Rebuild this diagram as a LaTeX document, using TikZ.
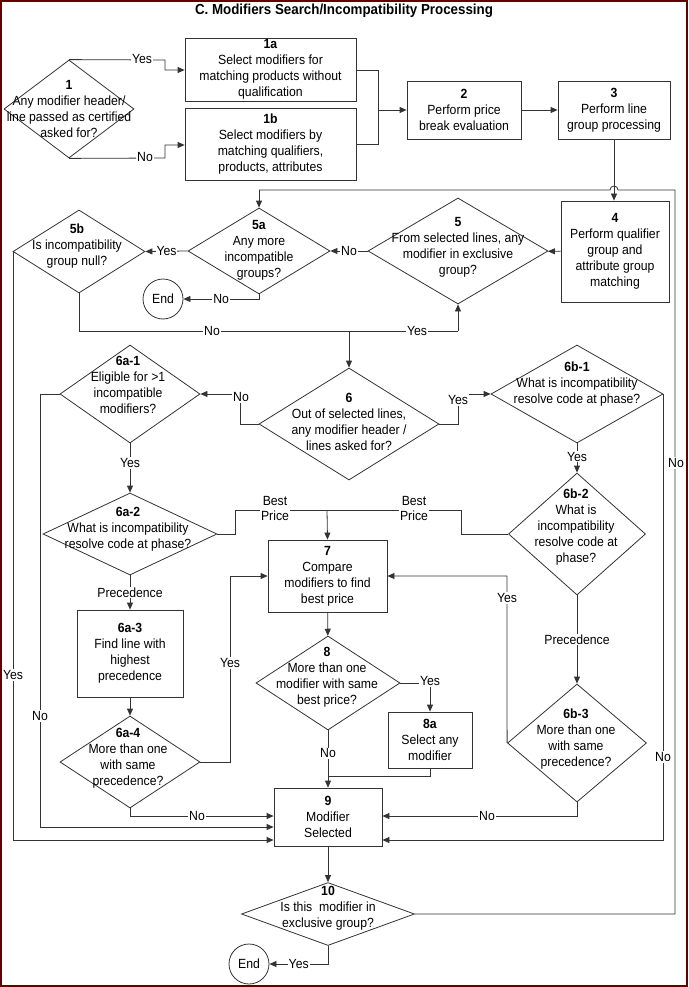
\documentclass[tikz,border=0pt]{standalone}
\usepackage{fontspec}
\setmainfont{Liberation Sans}[FakeStretch=0.92]
\usetikzlibrary{shapes.geometric,arrows.meta}
\begin{document}
\begin{tikzpicture}[x=1pt,y=-1pt,
  every node/.style={font=\fontsize{13.3}{16}\selectfont},
  box/.style={draw=black!80,thick,minimum width=#1,align=center,inner sep=0},
  dia/.style={diamond,draw=black!80,thick,inner sep=0},
  txt/.style={align=center,inner sep=0},
  lab/.style={fill=white,inner sep=1pt},
  endn/.style={circle,draw=black!80,thick,minimum size=40,inner sep=0},
  line/.style={draw=black!80,thick},
  arr/.style={line,-{Triangle[length=7pt,width=6pt]}}]
\useasboundingbox (0,0) rectangle (688,987);
\draw[draw=red!40!black,line width=2] (1,1) rectangle (687,986);
\node[font=\bfseries\fontsize{14.5}{16}\selectfont] (title) at (344,11) {C. Modifiers Search/Incompatibility Processing};
% nodes
\node[dia,minimum width=130,minimum height=98] (d1) at (69,109) {};
\node[txt] (t1) at (69,109) {\textbf{1}\\Any modifier header/\\line passed as certified\\asked for?};
\node[box=171,minimum height=63] (b1a) at (270.5,69.5) {\textbf{1a}\\Select modifiers for\\matching products without\\qualification};
\node[box=171,minimum height=72] (b1b) at (270.5,144) {\textbf{1b}\\Select modifiers by\\matching qualifiers,\\products, attributes};
\node[box=114,minimum height=58] (b2) at (464,110) {\textbf{2}\\Perform price\\break evaluation};
\node[box=112,minimum height=58] (b3) at (614,110) {\textbf{3}\\Perform line\\group processing};
\node[box=108,minimum height=101] (b4) at (615,251.5) {\textbf{4}\\Perform qualifier\\group and\\attribute group\\matching};
\node[dia,minimum width=180,minimum height=106] (d5) at (458,251) {};
\node[txt] (t5) at (458,247) {\textbf{5}\\From selected lines, any\\modifier in exclusive\\group?};
\node[dia,minimum width=142,minimum height=86] (d5a) at (259,251) {};
\node[txt] (t5a) at (259,250) {\textbf{5a}\\Any more\\incompatible\\groups?};
\node[dia,minimum width=132,minimum height=83] (d5b) at (79,251.5) {};
\node[txt] (t5b) at (77,246) {\textbf{5b}\\Is incompatibility\\group null?};
\node[endn] (end1) at (163,299) {End};
\node[dia,minimum width=180,minimum height=112] (d6) at (349,424) {};
\node[txt] (t6) at (349,422) {\textbf{6}\\Out of selected lines,\\any modifier header /\\lines asked for?};
\node[dia,minimum width=140,minimum height=98] (d6a1) at (130,394) {};
\node[txt] (t6a1) at (128,385) {\textbf{6a-1}\\Eligible for >1\\incompatible\\modifiers?};
\node[dia,minimum width=172,minimum height=98] (d6b1) at (577,394) {};
\node[txt] (t6b1) at (577,384) {\textbf{6b-1}\\What is incompatibility\\resolve code at phase?};
\node[dia,minimum width=174,minimum height=82] (d6a2) at (130,534) {};
\node[txt] (t6a2) at (128,529) {\textbf{6a-2}\\What is incompatibility\\resolve code at phase?};
\node[dia,minimum width=137,minimum height=122] (d6b2) at (577,534) {};
\node[txt] (t6b2) at (576,527) {\textbf{6b-2}\\What is\\incompatibility\\resolve code at\\phase?};
\node[box=119,minimum height=72] (b7) at (327.5,576) {\textbf{7}\\Compare\\modifiers to find\\best price};
\node[box=106,minimum height=87] (b6a3) at (130,653.5) {\textbf{6a-3}\\Find line with\\highest\\precedence};
\node[dia,minimum width=140,minimum height=92] (d6a4) at (130,762) {};
\node[txt] (t6a4) at (128,758) {\textbf{6a-4}\\More than one\\with same\\precedence?};
\node[dia,minimum width=144,minimum height=94] (d8) at (328,683) {};
\node[txt] (t8) at (327,677) {\textbf{8}\\More than one\\modifier with same\\best price?};
\node[box=84,minimum height=56] (b8a) at (430,740) {\textbf{8a}\\Select any\\modifier};
\node[dia,minimum width=139,minimum height=118] (d6b3) at (577,743) {};
\node[txt] (t6b3) at (576,739) {\textbf{6b-3}\\More than one\\with same\\precedence?};
\node[box=108,minimum height=58] (b9) at (328,817) {\textbf{9}\\Modifier\\Selected};
\node[dia,minimum width=173,minimum height=63] (d10) at (328,914) {};
\node[txt] (t10) at (328,908) {\textbf{10}\\Is this\ \ modifier in\\exclusive group?};
\node[endn] (end2) at (249,964) {End};
% coordinates
\coordinate (m12) at (378,110);
\coordinate (j7) at (327,510);
\coordinate (j9) at (328,776);
% connectors
\draw[arr] (d1.north) -- (165,60) -- (165,70) -- (b1a.west|-165,70);
\node[lab] (ly1) at (142,59) {Yes};
\draw[arr] (d1.south) -- (165,158) -- (165,145) -- (b1b.west|-165,145);
\node[lab] (ln1) at (145,157) {No};
\draw[line] (b1a.east|-0,70) -- (378,70) -- (378,144) -- (b1b.east|-0,144);
\draw[arr] (m12) -- (b2.west);
\draw[arr] (b2) -- (b3);
\draw[arr] (b3.south) -- (b3.south|-b4.north);
\draw[arr] (b4) -- (d5);
\draw[arr] (d5.west) -- (d5a.east) node[lab,midway] (ln5) {No};
\draw[arr] (d5a.west) -- (d5b.east) node[lab,midway] (ly5a) {Yes};
\draw[arr] (d5a.south) -- (259,299) -- (end1) node[lab,midway] (ln5a) {No};
\draw[line] (d5b.south) -- (79,331) -- (458,331);
\draw[arr] (458,331) -- (d5.south);
\node[lab] (ln5b) at (212,331) {No};
\node[lab] (ly5) at (417,331) {Yes};
\draw[arr] (349,331) -- (d6.north);
\draw[arr] (d5b.west) -- (13,251.5) -- (13,840) -- (b9.west|-0,840);
\node[lab] (ly5b) at (13,675) {Yes};
\draw[arr] (d6.west) -- (240,424) -- (240,394) -- (d6a1.east);
\node[lab] (ln6) at (241,397) {No};
\draw[arr] (d6.east) -- (458,424) -- (458,394) -- (d6b1.west);
\node[lab] (ly6) at (458,400) {Yes};
\draw[arr] (d6a1.west) -- (40,394) -- (40,827) -- (b9.west|-0,827);
\node[lab] (ln6a1) at (40,716) {No};
\draw[arr] (d6a1.south) -- (d6a2.north) node[lab,pos=0.4] (ly6a1) {Yes};
\draw[arr] (d6b1.south) -- (d6b2.north) node[lab,pos=0.45] (ly6b1) {Yes};
\draw[arr] (d6b1.east) -- (663,394) -- (663,840) -- (b9.east|-0,840);
\node[lab] (ln6b1) at (663,757) {No};
\draw[line] (d6a2.east) -- (235,534) -- (235,510) -- (j7);
\draw[line] (d6b2.west) -- (461,534) -- (461,510) -- (j7);
\node[lab,align=center,font=\fontsize{13.3}{15}\selectfont] (bp1) at (275,508) {Best\\Price};
\node[lab,align=center,font=\fontsize{13.3}{15}\selectfont] (bp2) at (414,508) {Best\\Price};
\draw[arr] (j7) -- (b7.north);
\draw[arr] (d6a2.south) -- (b6a3.north) node[lab,midway] (lp1) {Precedence};
\draw[arr] (b6a3) -- (d6a4);
\draw[arr] (d6a4.east) -- (230,762) -- (230,576) -- (b7.west);
\node[lab] (ly6a4) at (230,663) {Yes};
\draw[arr] (d6a4.south) -- (130,816) -- (b9.west|-0,816);
\node[lab] (ln6a4) at (197,816) {No};
\draw[arr] (b7) -- (d8);
\draw[line] (d8.east) -- (430,683);
\draw[arr] (430,683) -- (b8a.north);
\node[lab] (ly8) at (430,681) {Yes};
\draw[line] (b8a.south) -- (430,776) -- (j9);
\draw[arr] (d8.south) -- (b9.north) node[lab,pos=0.4] (ln8) {No};
\draw[arr] (d6b2.south) -- (d6b3.north) node[lab,midway] (lp2) {Precedence};
\draw[arr] (d6b3.west) -- (507,576) -- (b7.east);
\node[lab] (ly6b3) at (507,598) {Yes};
\draw[arr] (d6b3.south) -- (577,816) -- (b9.east|-0,816);
\node[lab] (ln6b3) at (487,816) {No};
\draw[arr] (b9) -- (d10);
\draw[arr] (d10.south) -- (328,964) -- (end2) node[lab,midway] (ly10) {Yes};
\draw[line] (d10.east) -- (675,914) -- (675,190) -- (618,190) arc (0:-180:4) -- (259,190);
\draw[arr] (259,190) -- (d5a.north);
\node[lab] (ln10) at (676,463) {No};
\end{tikzpicture}
\end{document}
